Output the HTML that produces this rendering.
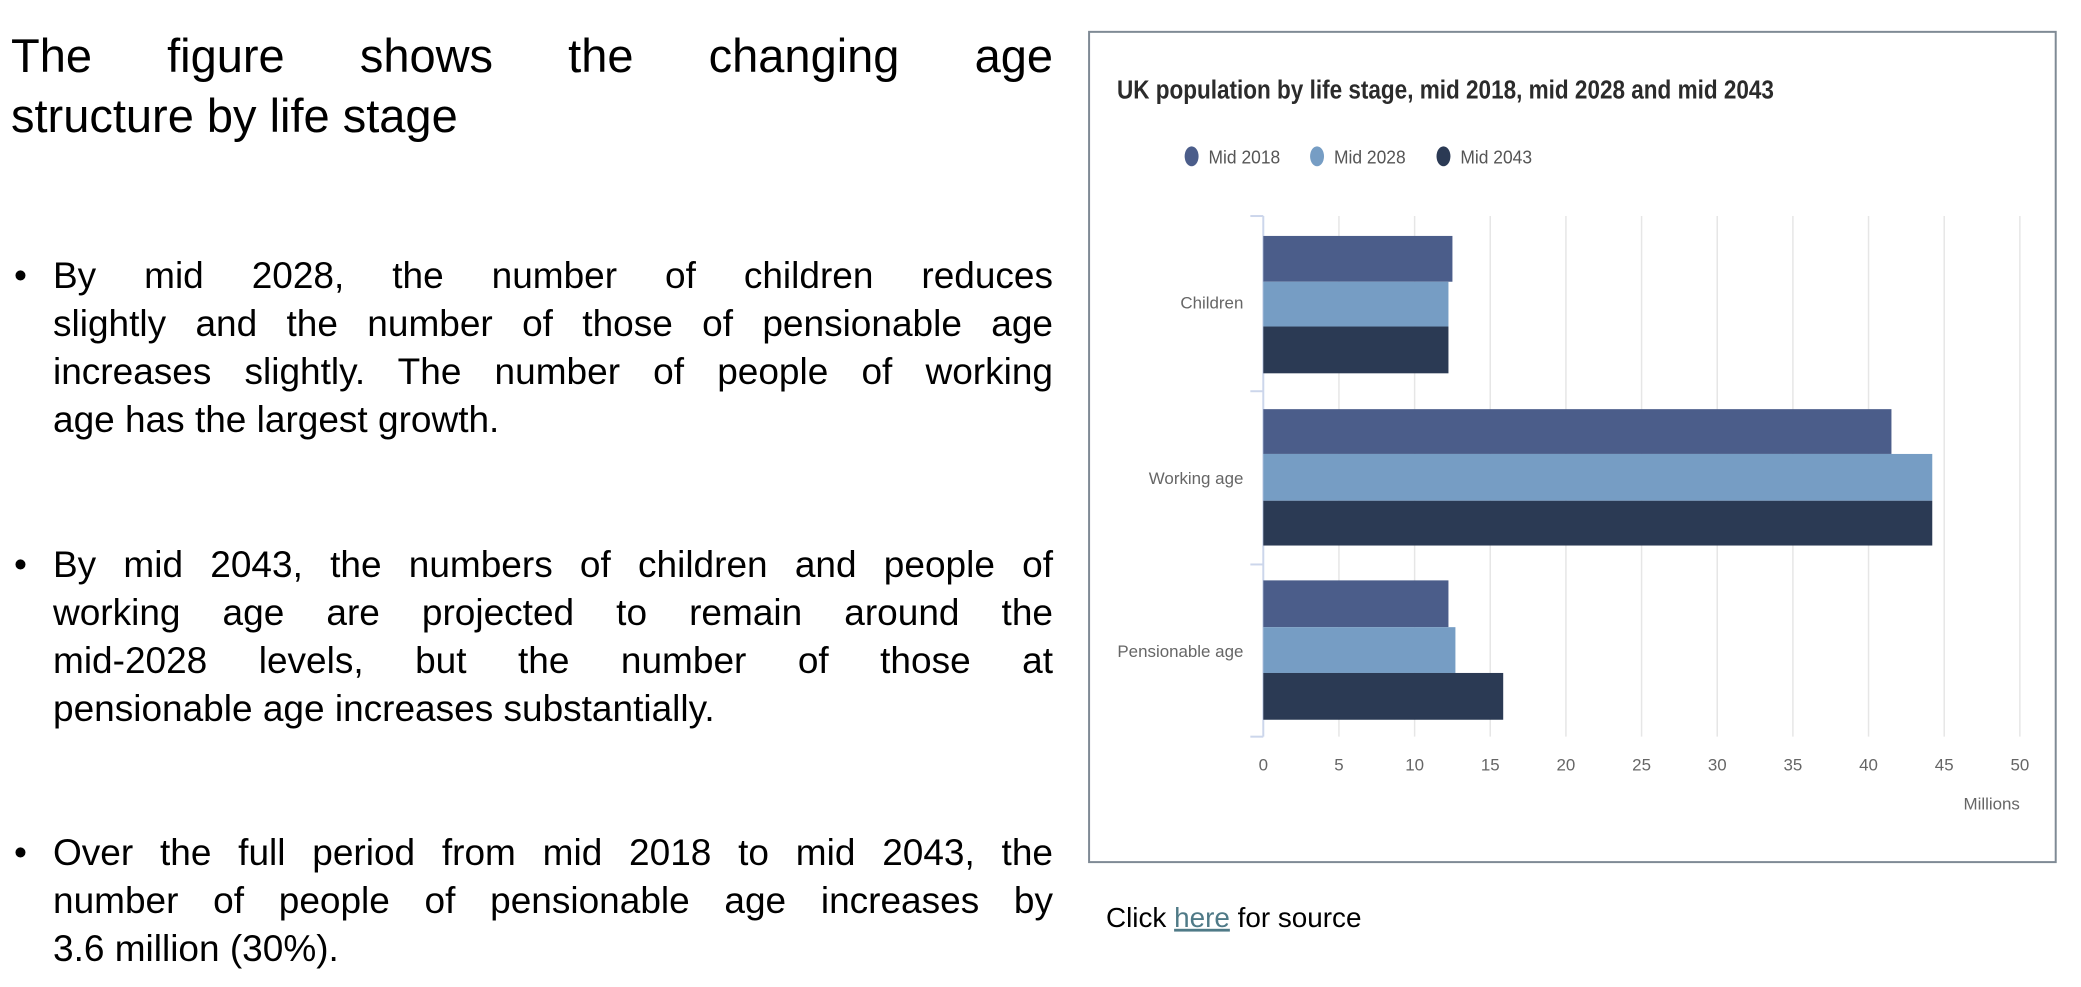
<!DOCTYPE html>
<html><head><meta charset="utf-8">
<style>
html,body{margin:0;padding:0;background:#fff;}
body{width:2081px;height:987px;position:relative;overflow:hidden;font-family:"Liberation Sans",sans-serif;color:#000;}
.l{position:absolute;left:53px;width:1000px;white-space:nowrap;font-size:37px;line-height:48px;}
.j{text-align:justify;text-align-last:justify;}
.t{position:absolute;left:11px;width:1042px;font-size:47px;line-height:60px;white-space:nowrap;}
.b{position:absolute;left:14px;font-size:37px;line-height:48px;}
svg{position:absolute;left:0;top:0;}
</style></head><body>
<div class="t j" style="top:26px">The figure shows the changing age</div>
<div class="t" style="top:86px">structure by life stage</div>

<div class="b" style="top:252px">•</div>
<div class="l j" style="top:252px">By mid 2028, the number of children reduces</div>
<div class="l j" style="top:300px">slightly and the number of those of pensionable age</div>
<div class="l j" style="top:348px">increases slightly. The number of people of working</div>
<div class="l" style="top:396px">age has the largest growth.</div>

<div class="b" style="top:541px">•</div>
<div class="l j" style="top:541px">By mid 2043, the numbers of children and people of</div>
<div class="l j" style="top:589px">working age are projected to remain around the</div>
<div class="l j" style="top:637px">mid-2028 levels, but the number of those at</div>
<div class="l" style="top:685px">pensionable age increases substantially.</div>

<div class="b" style="top:829px">•</div>
<div class="l j" style="top:829px">Over the full period from mid 2018 to mid 2043, the</div>
<div class="l j" style="top:877px">number of people of pensionable age increases by</div>
<div class="l" style="top:925px">3.6 million (30%).</div>

<svg width="2081" height="987" xmlns="http://www.w3.org/2000/svg" font-family="Liberation Sans, sans-serif">
<g transform="scale(0.9955)">
<rect x="1094" y="32" width="971" height="834" fill="#fff" stroke="#7f8a95" stroke-width="2"/>
<text x="1122" y="99" font-size="26" font-weight="bold" fill="#2b2b2b" textLength="660" lengthAdjust="spacingAndGlyphs">UK population by life stage, mid 2018, mid 2028 and mid 2043</text>
<ellipse cx="1197" cy="157" rx="7" ry="10" fill="#4b5d8a"/>
<text x="1214" y="164" font-size="19" fill="#555" textLength="72" lengthAdjust="spacingAndGlyphs">Mid 2018</text>
<ellipse cx="1323" cy="157" rx="7" ry="10" fill="#769dc4"/>
<text x="1340" y="164" font-size="19" fill="#555" textLength="72" lengthAdjust="spacingAndGlyphs">Mid 2028</text>
<ellipse cx="1450" cy="157" rx="7" ry="10" fill="#2b3a54"/>
<text x="1467" y="164" font-size="19" fill="#555" textLength="72" lengthAdjust="spacingAndGlyphs">Mid 2043</text>
<g stroke="#e6e6e6" stroke-width="1.5">
<line x1="1345" y1="217" x2="1345" y2="740"/><line x1="1421" y1="217" x2="1421" y2="740"/>
<line x1="1497" y1="217" x2="1497" y2="740"/><line x1="1573" y1="217" x2="1573" y2="740"/>
<line x1="1649" y1="217" x2="1649" y2="740"/><line x1="1725" y1="217" x2="1725" y2="740"/>
<line x1="1801" y1="217" x2="1801" y2="740"/><line x1="1877" y1="217" x2="1877" y2="740"/>
<line x1="1953" y1="217" x2="1953" y2="740"/><line x1="2029" y1="217" x2="2029" y2="740"/>
</g>
<g stroke="#ccd6eb" stroke-width="2">
<line x1="1269" y1="217" x2="1269" y2="740"/>
<line x1="1256" y1="217" x2="1269" y2="217"/><line x1="1256" y1="393" x2="1269" y2="393"/>
<line x1="1256" y1="567" x2="1269" y2="567"/><line x1="1256" y1="740" x2="1269" y2="740"/>
</g>
<rect x="1269" y="237" width="190" height="46" fill="#4b5d8a"/>
<rect x="1269" y="283" width="186" height="45" fill="#769dc4"/>
<rect x="1269" y="328" width="186" height="47" fill="#2b3a54"/>
<rect x="1269" y="411" width="631" height="45" fill="#4b5d8a"/>
<rect x="1269" y="456" width="672" height="47" fill="#769dc4"/>
<rect x="1269" y="503" width="672" height="45" fill="#2b3a54"/>
<rect x="1269" y="583" width="186" height="47" fill="#4b5d8a"/>
<rect x="1269" y="630" width="193" height="46" fill="#769dc4"/>
<rect x="1269" y="676" width="241" height="47" fill="#2b3a54"/>
<g font-size="17" fill="#666" text-anchor="end">
<text x="1249" y="310">Children</text>
<text x="1249" y="486">Working age</text>
<text x="1249" y="660">Pensionable age</text>
</g>
<g font-size="17" fill="#666" text-anchor="middle">
<text x="1269" y="774">0</text><text x="1345" y="774">5</text><text x="1421" y="774">10</text>
<text x="1497" y="774">15</text><text x="1573" y="774">20</text><text x="1649" y="774">25</text>
<text x="1725" y="774">30</text><text x="1801" y="774">35</text><text x="1877" y="774">40</text>
<text x="1953" y="774">45</text><text x="2029" y="774">50</text>
</g>
<text x="2029" y="813" font-size="17" fill="#666" text-anchor="end">Millions</text>
<text x="1111" y="931" font-size="28" fill="#000">Click <tspan fill="#4f7a87" text-decoration="underline">here</tspan> for source</text>
</g>
</svg>
</body></html>
